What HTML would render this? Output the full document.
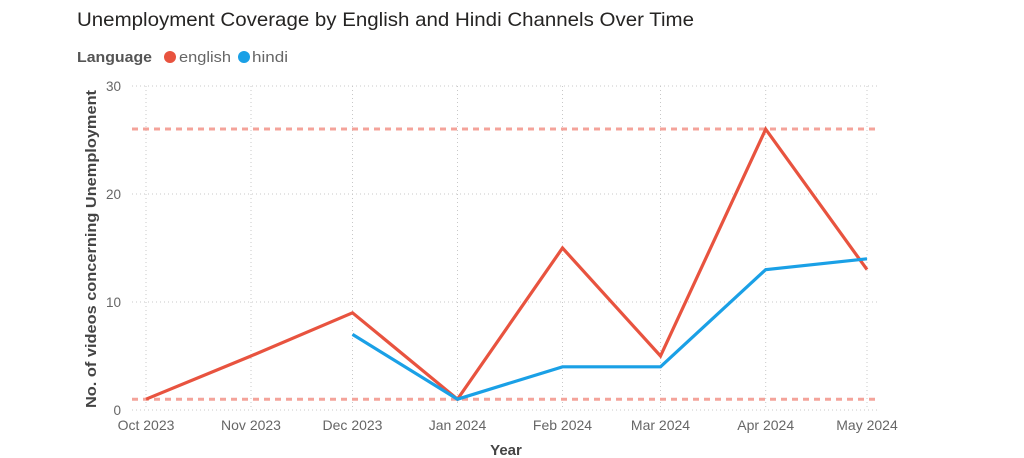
<!DOCTYPE html>
<html><head><meta charset="utf-8"><style>
html,body{margin:0;padding:0;background:#fff;}
svg{display:block;}
text{font-family:"Liberation Sans",sans-serif;}
</style></head><body>
<svg width="1024" height="458" viewBox="0 0 1024 458" xmlns="http://www.w3.org/2000/svg">
<rect width="1024" height="458" fill="#fff"/>
<text x="77" y="26" font-size="19.5" fill="#252423" textLength="617" lengthAdjust="spacingAndGlyphs">Unemployment Coverage by English and Hindi Channels Over Time</text>
<text x="77" y="62" font-size="15" font-weight="bold" fill="#555" textLength="75" lengthAdjust="spacingAndGlyphs">Language</text>
<circle cx="170" cy="57" r="6" fill="#E8533F"/>
<text x="179" y="62" font-size="15" fill="#666" textLength="52" lengthAdjust="spacingAndGlyphs">english</text>
<circle cx="244" cy="57" r="6" fill="#1AA0E6"/>
<text x="252" y="62" font-size="15" fill="#666" textLength="36" lengthAdjust="spacingAndGlyphs">hindi</text>

<g stroke="#c8c8c8" stroke-width="1" stroke-dasharray="1 3" fill="none">
<line x1="132" y1="86" x2="880" y2="86"/>
<line x1="132" y1="194" x2="880" y2="194"/>
<line x1="132" y1="302" x2="880" y2="302"/>
<line x1="132" y1="410" x2="880" y2="410"/>
<line x1="146" y1="86" x2="146" y2="410"/>
<line x1="251" y1="86" x2="251" y2="410"/>
<line x1="352.5" y1="86" x2="352.5" y2="410"/>
<line x1="457.5" y1="86" x2="457.5" y2="410"/>
<line x1="562.5" y1="86" x2="562.5" y2="410"/>
<line x1="660.5" y1="86" x2="660.5" y2="410"/>
<line x1="765.7" y1="86" x2="765.7" y2="410"/>
<line x1="867" y1="86" x2="867" y2="410"/>
</g>

<g font-size="13.5" fill="#666" text-anchor="end">
<text x="121" y="91">30</text>
<text x="121" y="199">20</text>
<text x="121" y="307">10</text>
<text x="121" y="415">0</text>
</g>
<g font-size="14" fill="#666" text-anchor="middle">
<text x="146" y="430">Oct 2023</text>
<text x="251" y="430">Nov 2023</text>
<text x="352.5" y="430">Dec 2023</text>
<text x="457.5" y="430">Jan 2024</text>
<text x="562.5" y="430">Feb 2024</text>
<text x="660.5" y="430">Mar 2024</text>
<text x="765.7" y="430">Apr 2024</text>
<text x="867" y="430">May 2024</text>
</g>
<text x="506" y="455" font-size="15" font-weight="bold" fill="#444" text-anchor="middle">Year</text>
<text transform="translate(96,249) rotate(-90)" x="0" y="0" font-size="15" font-weight="bold" fill="#444" text-anchor="middle" textLength="318" lengthAdjust="spacingAndGlyphs">No. of videos concerning Unemployment</text>

<g stroke="#F4A39A" stroke-width="3" stroke-dasharray="6 5" fill="none">
<line x1="132" y1="129" x2="880" y2="129"/>
<line x1="132" y1="399.2" x2="880" y2="399.2"/>
</g>

<polyline fill="none" stroke="#E8533F" stroke-width="3.2" stroke-linejoin="miter" points="146,399.2 251,356 352.5,312.8 457.5,399.2 562.5,248 660.5,356 765.7,129.2 867,269.6"/>
<polyline fill="none" stroke="#1AA0E6" stroke-width="3.2" stroke-linejoin="miter" points="352.5,334.4 457.5,399.2 562.5,366.8 660.5,366.8 765.7,269.6 867,258.8"/>
</svg>
</body></html>
